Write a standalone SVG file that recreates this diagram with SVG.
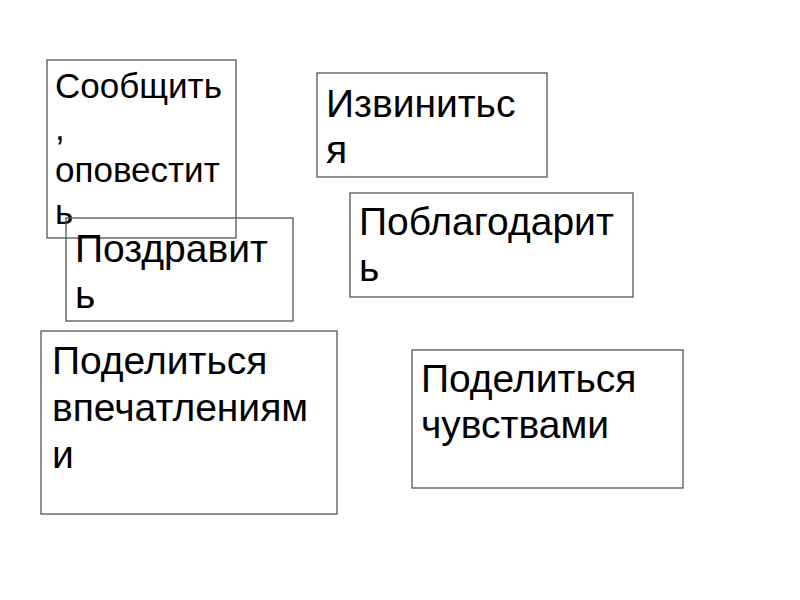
<svg xmlns="http://www.w3.org/2000/svg" width="800" height="600" viewBox="0 0 800 600">
<style>
.box{fill:none;stroke:#555;stroke-width:1.3}
.t{font-family:"Liberation Sans",Arial,sans-serif;font-size:39px;fill:#000}
.s{font-size:35px}
</style>
<rect width="800" height="600" fill="#fff"/>
<g id="node-soobshchit">
<rect class="box" x="47" y="60" width="189" height="178"/>
<text class="t s"><tspan x="55" y="98">Сообщить</tspan><tspan x="55" y="140">,</tspan><tspan x="55" y="182">оповестит</tspan><tspan x="55" y="224">ь</tspan></text>
</g>
<g id="node-pozdravit">
<rect class="box" x="66" y="218" width="227" height="103"/>
<text class="t"><tspan x="75" y="262">Поздравит</tspan><tspan x="75" y="308">ь</tspan></text>
</g>
<g id="node-izvinitsya">
<rect class="box" x="317" y="73" width="230" height="104"/>
<text class="t"><tspan x="326" y="117">Извинитьс</tspan><tspan x="326" y="163">я</tspan></text>
</g>
<g id="node-poblagodarit">
<rect class="box" x="350" y="193" width="283" height="104"/>
<text class="t"><tspan x="359" y="235">Поблагодарит</tspan><tspan x="359" y="281">ь</tspan></text>
</g>
<g id="node-vpechatleniya">
<rect class="box" x="41" y="331" width="296" height="183"/>
<text class="t"><tspan x="52" y="374">Поделиться</tspan><tspan x="52" y="421">впечатлениям</tspan><tspan x="52" y="468">и</tspan></text>
</g>
<g id="node-chuvstva">
<rect class="box" x="412" y="350" width="271" height="138"/>
<text class="t"><tspan x="421" y="392">Поделиться</tspan><tspan x="421" y="438">чувствами</tspan></text>
</g>
<g id="connectors"/>
</svg>
